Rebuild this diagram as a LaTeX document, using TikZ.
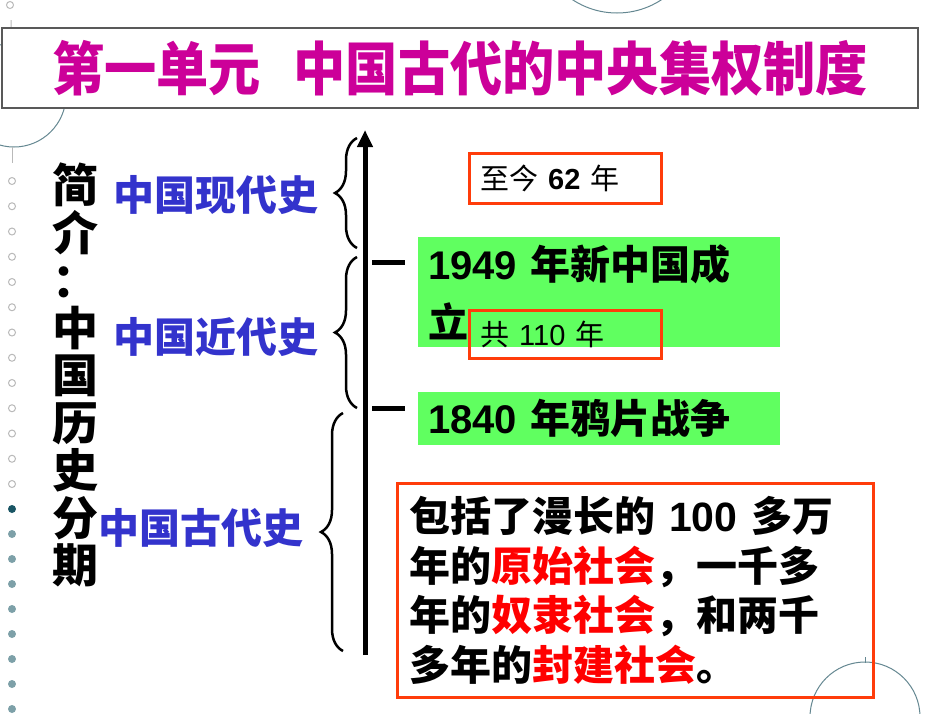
\documentclass[tikz,border=0pt]{standalone}
\usepackage{fontspec}
\setmainfont{Noto Sans CJK SC}
\newfontfamily\titlefont{Noto Sans CJK SC}[FakeStretch=0.9]
\newfontfamily\latinfont{Liberation Sans}
\newcommand{\num}[1]{{\latinfont\bfseries #1}}
\usetikzlibrary{arrows.meta,decorations.pathreplacing}
\definecolor{titlemag}{RGB}{204,0,153}
\definecolor{labelblue}{RGB}{51,51,204}
\definecolor{boxred}{RGB}{255,60,10}
\definecolor{eventgreen}{RGB}{96,255,96}
\definecolor{dotgray}{RGB}{185,185,185}
\definecolor{dotteal}{RGB}{125,160,168}
\definecolor{dotdark}{RGB}{25,85,100}
\definecolor{ringgray}{RGB}{100,135,145}
\begin{document}
\begin{tikzpicture}[x=1pt,y=1pt,
  period/.style={text=labelblue,font=\fontsize{41}{41}\selectfont\bfseries,inner sep=0pt},
  event/.style={fill=eventgreen,anchor=north west,text width=342pt,inner xsep=10pt,inner ysep=0pt,
    align=left,font=\fontsize{40}{58}\selectfont\bfseries},
  span/.style={draw=boxred,line width=3pt,anchor=north west,text width=170pt,inner xsep=11pt,
    inner ysep=0pt,minimum height=50pt,align=left,font=\fontsize{29}{29}\selectfont},
  era/.style={decorate,decoration={brace,amplitude=22pt},line width=2.5pt},
  tick/.style={line width=5pt},
  ring/.style={ringgray,line width=1pt}]
  \useasboundingbox (0,0) rectangle (950,-713);
  % ornaments
  \draw[ring] (617,68) circle (81);
  \draw[ring] (14,-95) circle (52);
  \draw[ring] (865,-717) circle (55);
  \draw[ring] (865,-657) -- (865,-663);
  \draw[dotgray,line width=1pt] (10,-5) circle (3.5) (11,-20) -- (11,-27);
  \draw[dotgray,line width=1pt] (12,-147) -- (12,-163);
  \foreach \k in {0,...,12}
    \draw[dotgray,line width=1pt] (12,-181-25.25*\k) circle (3.5);
  \fill[dotdark] (12,-509) circle (4);
  \foreach \k in {1,...,8}
    \fill[dotteal] (12,-509-25*\k) circle (4);
  % title
  \node[draw=black!65,line width=2pt,fill=white,minimum width=916pt,minimum height=80pt,inner sep=0pt,
    text=titlemag,font=\titlefont\fontsize{58}{58}\selectfont\bfseries] (title) at (460,-68)
    {第一单元\hspace{33pt}中国古代的中央集权制度};
  % left side
  \node[align=center,inner sep=0pt,font=\fontsize{46}{47.5}\selectfont\bfseries] (intro) at (75,-375)
    {简\\介\\：\\中\\国\\历\\史\\分\\期};
  \node[period] (modern) at (216,-195) {中国现代史};
  \node[period] (recent) at (216,-337) {中国近代史};
  \node[period] (ancient) at (201,-528) {中国古代史};
  % time axis
  \coordinate (axisfoot) at (365,-655);
  \coordinate (axishead) at (365,-130);
  \draw[line width=5pt,-{Triangle[width=15pt,length=17pt]}] (axisfoot) -- (axishead);
  \draw[era] (357,-248) -- (357,-138);
  \draw[era] (357,-408) -- (357,-257);
  \draw[era] (343,-651) -- (343,-413);
  \coordinate (tick49) at (372,-262);
  \coordinate (tick40) at (372,-408);
  \draw[tick] (tick49) -- ++(33,0);
  \draw[tick] (tick40) -- ++(33,0);
  % events
  \node[event,minimum height=110pt] (ev1949) at (418,-237) {\num{1949} 年新中国成\\立};
  \node[event,minimum height=53pt] (ev1840) at (418,-392) {\num{1840} 年鸦片战争};
  \node[span] (now) at (468,-152) {至今 \num{62} 年};
  \node[span,minimum height=48pt] (total) at (468,-309) {共 {\latinfont 110} 年};
  \node[draw=boxred,line width=3pt,anchor=north west,text width=452pt,inner xsep=12pt,inner ysep=0pt,
    minimum height=214pt,align=left,font=\fontsize{41}{49.5}\selectfont\bfseries] (ancientnote) at (396,-482)
    {包括了漫长的 \num{100} 多万\\
     年的{\color{red}原始社会}，一千多\\
     年的{\color{red}奴隶社会}，和两千\\
     多年的{\color{red}封建社会}。};
\end{tikzpicture}
\end{document}
